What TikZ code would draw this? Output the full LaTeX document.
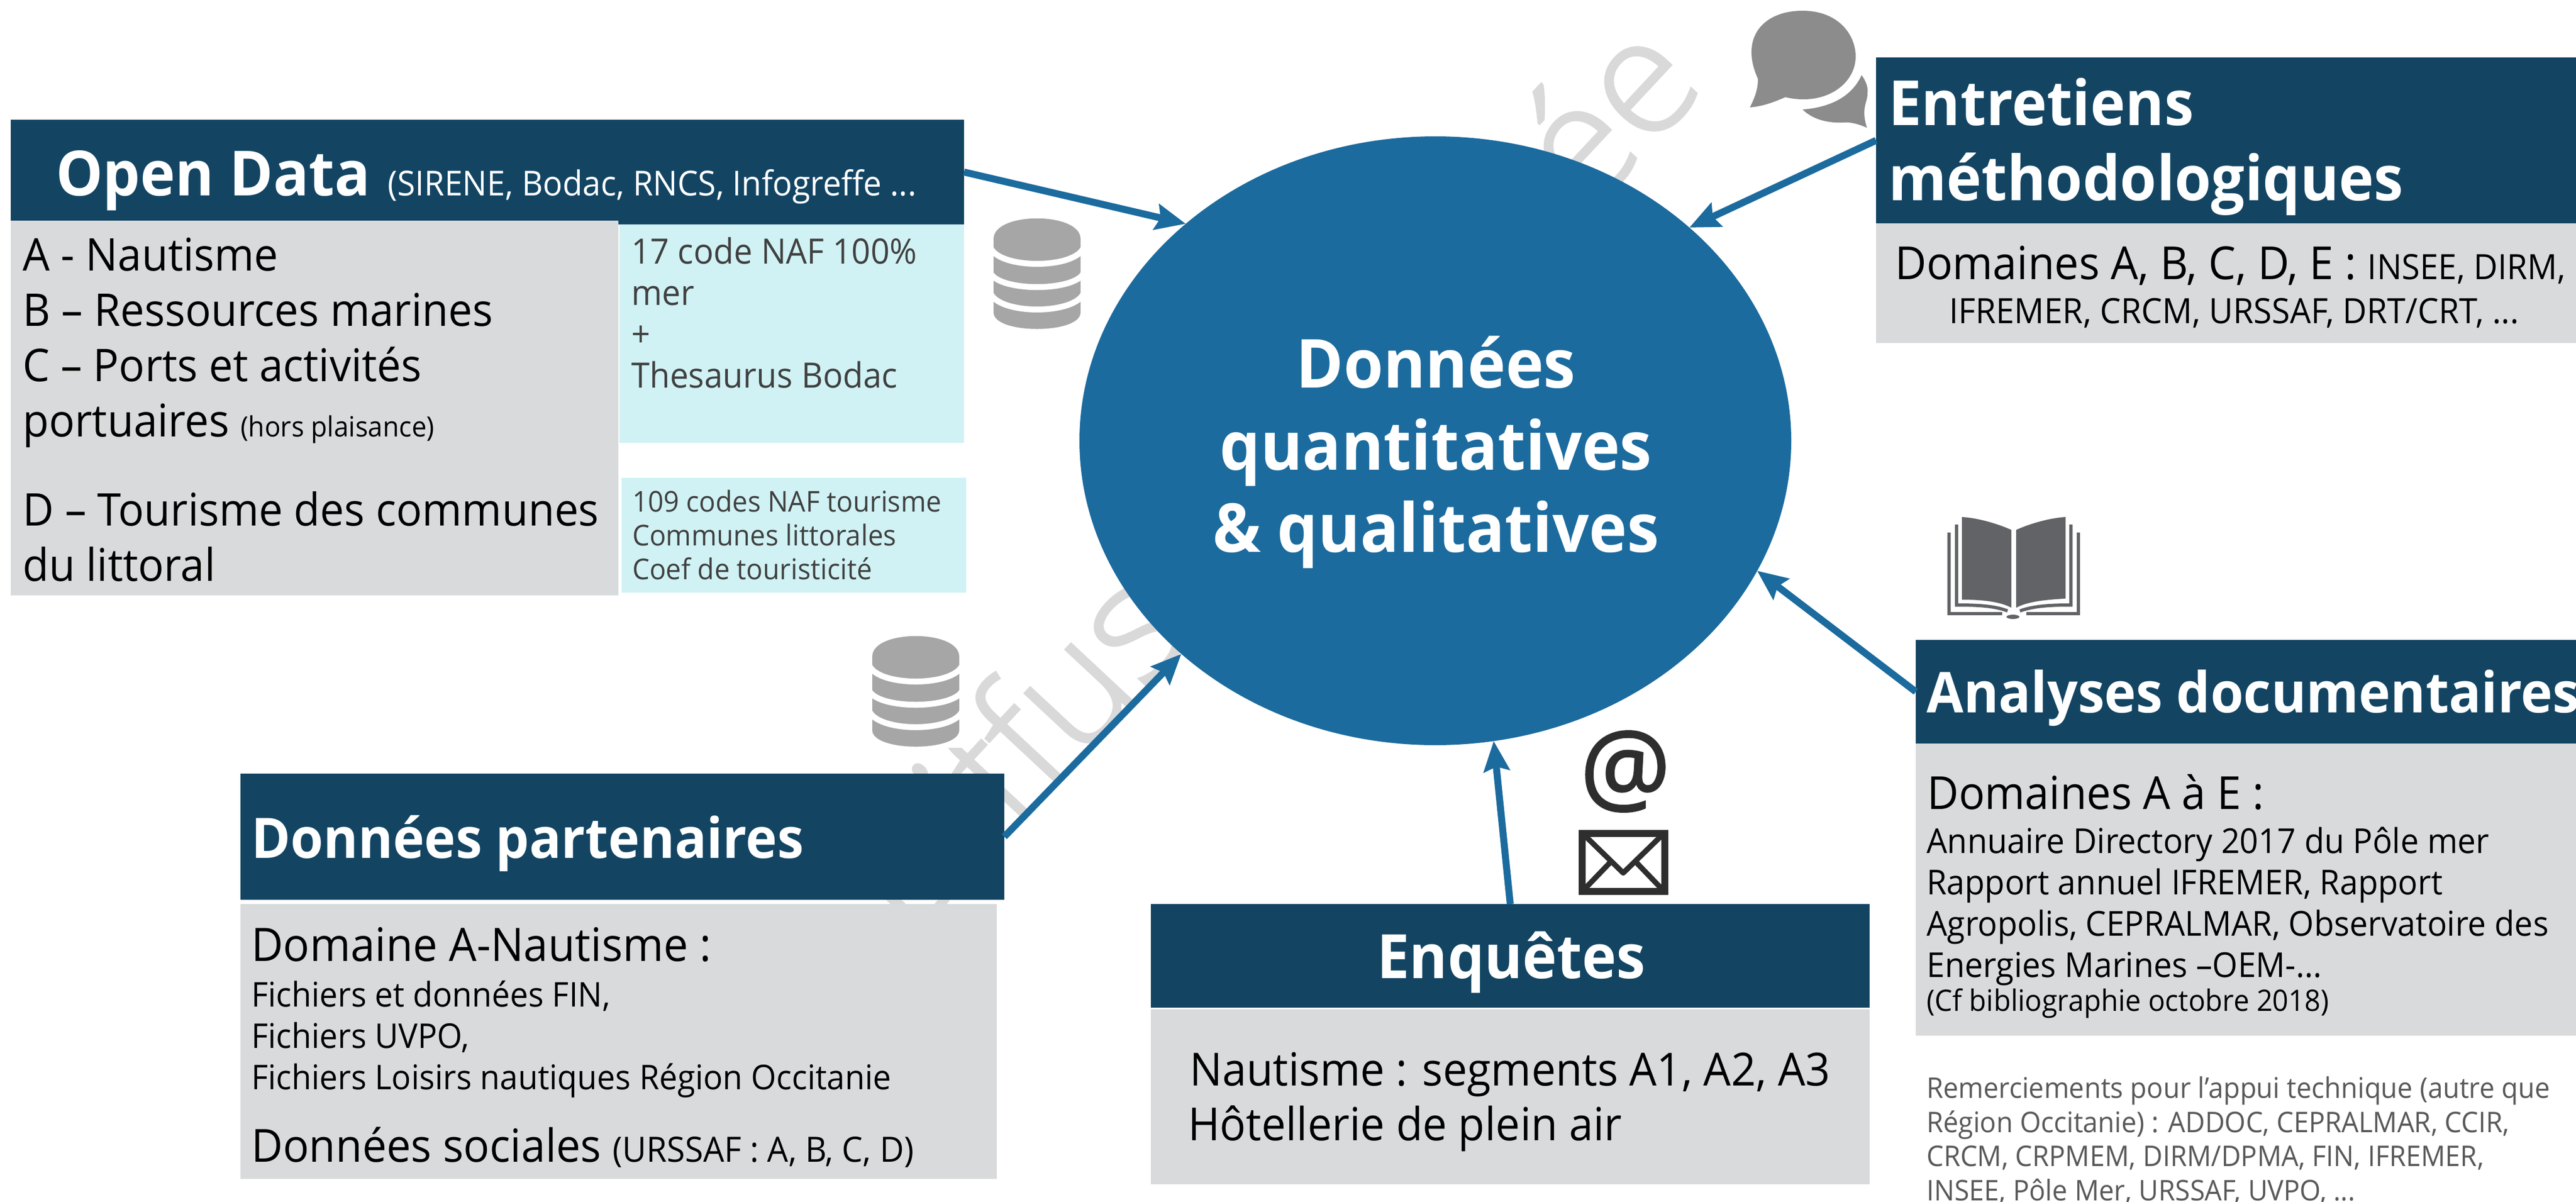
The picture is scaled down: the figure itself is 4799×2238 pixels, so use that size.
\documentclass[tikz,border=0pt]{standalone}
\usepackage{fontspec}
\setmainfont[FakeStretch=0.95]{Open Sans}
\newfontfamily\wmfont[UprightFont={* Light},FakeBold=1.5]{Open Sans}
\newfontfamily\atfont[FakeBold=1.5]{Open Sans}
\usetikzlibrary{arrows.meta,shapes.geometric}
\definecolor{hdrblue}{HTML}{134563}
\definecolor{ellblue}{HTML}{1C6B9E}
\definecolor{boxgray}{HTML}{D9DADC}
\definecolor{boxcyan}{HTML}{D0F2F5}
\definecolor{wmgray}{HTML}{D9D9D9}
\definecolor{dbgray}{HTML}{A6A6A6}
\definecolor{bubgray}{HTML}{8C8C8C}
\definecolor{bookgray}{HTML}{626366}
\definecolor{icondark}{HTML}{2E2E2E}
\definecolor{txtcyan}{HTML}{404040}
\definecolor{txtthanks}{HTML}{595959}
\newcommand\fs[2]{\fontsize{#1}{#2}\selectfont}
\newcommand\dbicon[2]{%
  \begin{scope}[shift={(#1,#2)}]
    \fill[white] (-111,-2) rectangle (107,208);
    \fill[dbgray] (-81,38) .. controls (-81,-13) and (81,-13) .. (81,38)
      -- (81,175) .. controls (81,216) and (-81,216) .. (-81,175) -- cycle;
    \draw[white,line width=11pt] (-86,56) .. controls (-66,94) and (66,94) .. (86,56);
    \draw[white,line width=11pt] (-86,103) .. controls (-66,136) and (66,136) .. (86,103);
    \draw[white,line width=11pt] (-86,141) .. controls (-66,179) and (66,179) .. (86,141);
  \end{scope}}
\tikzset{
  hdr/.style={fill=hdrblue,draw=none,inner sep=0pt,outer sep=0pt,anchor=north west},
  gbox/.style={fill=boxgray,draw=none,inner sep=0pt,outer sep=0pt,anchor=north west},
  cbox/.style={fill=boxcyan,draw=none,inner sep=0pt,outer sep=0pt,anchor=north west},
  ttl/.style={text=white,inner sep=0pt,anchor=base west},
  txt/.style={text=black,inner sep=0pt,anchor=base west,align=left},
  flow/.style={draw=ellblue,line width=13pt,-{Stealth[length=56pt,width=48pt,inset=8pt]}}
}
\begin{document}
\begin{tikzpicture}[x=1pt,y=-1pt]
\useasboundingbox (0,0) rectangle (4799,2238);
\fill[white] (0,0) rectangle (4799,2238);
% watermark
\node[text=wmgray,inner sep=0pt,rotate=47,anchor=center,font={\wmfont\fs{301}{305}}] (wm) at (2355,881) {Diffusion limitée};
% headers
\node[hdr,minimum width=1776pt,minimum height=195pt] (hopen) at (20,223) {};
\node[hdr,minimum width=1304pt,minimum height=309pt] (hentr) at (3495,107) {};
\node[hdr,minimum width=1230pt,minimum height=193pt] (hanal) at (3569,1192) {};
\node[hdr,minimum width=1339pt,minimum height=193pt] (henq) at (2144,1684) {};
\node[hdr,minimum width=1423pt,minimum height=235pt] (hpart) at (448,1441) {};
% grey & cyan boxes
\node[cbox,minimum width=642pt,minimum height=407pt] (c1) at (1154,418) {};
\node[cbox,minimum width=642pt,minimum height=214pt] (c2) at (1158,890) {};
\node[gbox,minimum width=1132pt,minimum height=698pt] (gopen) at (20,411) {};
\node[gbox,minimum width=1304pt,minimum height=223pt] (gentr) at (3495,416) {};
\node[gbox,minimum width=1230pt,minimum height=544pt] (ganal) at (3569,1385) {};
\node[gbox,minimum width=1339pt,minimum height=326pt] (genq) at (2144,1880) {};
\node[gbox,minimum width=1409pt,minimum height=512pt] (gpart) at (448,1684) {};
% central ellipse
\node[ellipse,fill=ellblue,draw=none,minimum width=1326pt,minimum height=1134pt,inner sep=0pt,outer sep=0pt] (core) at (2674,821) {};
\node[text=white,font={\bfseries\fs{126}{153}},align=center,inner sep=0pt,anchor=base] (coret) at (2675,1028) {Données\\quantitatives\\\& qualitatives};
% database icons (their white ground hides the watermark)
\dbicon{1932}{407}
\dbicon{1706}{1185}
% connectors
\draw[flow] (hopen.east) -- (core.139.7);
\draw[flow] (hpart.east) -- (core.220.5);
\draw[flow] (henq.north) -- (core.-79.5);
\draw[flow] (hanal.west) -- (core.-22.5);
\draw[flow] (hentr.west) -- (core.40.3);
% header texts
\node[ttl,font={\bfseries\fs{116}{120}}] (t1) at (104,364) {Open Data};
\node[ttl,font={\fs{64}{70}}] (t1b) at (722,364) {(SIRENE, Bodac, RNCS, Infogreffe ...};
\node[ttl,align=left,font={\bfseries\fs{116}{140}}] (t2) at (3518,373) {Entretiens\\méthodologiques};
\node[ttl,font={\bfseries\fs{105}{120}}] (t3) at (3589,1327) {Analyses documentaires};
\node[ttl,font={\bfseries\fs{114}{120}}] (t4) at (2565,1822) {Enquêtes};
\node[ttl,font={\bfseries\fs{104}{120}}] (t5) at (468,1598) {Données partenaires};
% open data body
\node[txt,font={\fs{84}{103}}] (a1) at (42,813) {A - Nautisme\\B – Ressources marines\\C – Ports et activités\\portuaires {\fs{52}{103}(hors plaisance)}};
\node[txt,font={\fs{84}{103}}] (a2) at (42,1082) {D – Tourisme des communes\\du littoral};
\node[txt,text=txtcyan,font={\fs{65}{77}}] (a3) at (1176,722) {17 code NAF 100\%\\mer\\+\\Thesaurus Bodac};
\node[txt,text=txtcyan,font={\fs{53.5}{63}}] (a4) at (1178,1079) {109 codes NAF tourisme\\Communes littorales\\Coef de touristicité};
% entretiens body
\node[txt,font={\fs{85}{90}}] (b1) at (3530,520) {Domaines A, B, C, D, E : {\fs{65}{90}INSEE, DIRM,}};
\node[txt,font={\fs{65}{82}}] (b2) at (3631,602) {IFREMER, CRCM, URSSAF, DRT/CRT, ...};
% analyses body
\node[txt,font={\fs{85}{90}}] (d1) at (3590,1507) {Domaines A à E :};
\node[txt,font={\fs{64}{77}}] (d2) at (3589,1820) {Annuaire Directory 2017 du Pôle mer\\Rapport annuel IFREMER, Rapport\\Agropolis, CEPRALMAR, Observatoire des\\Energies Marines –OEM-...};
\node[txt,font={\fs{55}{60}}] (d3) at (3589,1883) {(Cf bibliographie octobre 2018)};
\node[txt,text=txtthanks,font={\fs{53}{63.5}}] (d4) at (3589,2236) {Remerciements pour l’appui technique (autre que\\Région Occitanie) : ADDOC, CEPRALMAR, CCIR,\\CRCM, CRPMEM, DIRM/DPMA, FIN, IFREMER,\\INSEE, Pôle Mer, URSSAF, UVPO, ...};
% enquetes body
\node[txt,font={\fs{85}{90}}] (e1) at (2216,2022) {Nautisme : segments A1, A2, A3};
\node[txt,font={\fs{85}{90}}] (e2) at (2213,2124) {Hôtellerie de plein air};
% partenaires body
\node[txt,font={\fs{86}{90}}] (p1) at (468,1790) {Domaine A-Nautisme :};
\node[txt,font={\fs{63.5}{77}}] (p2) at (468,2029) {Fichiers et données FIN,\\Fichiers UVPO,\\Fichiers Loisirs nautiques Région Occitanie};
\node[txt,font={\fs{85}{90}}] (p3) at (468,2164) {Données sociales {\fs{65}{90}(URSSAF : A, B, C, D)}};
% speech bubbles
\fill[bubgray] (3468,140) .. controls (3476,150) and (3481,165) .. (3479,173) .. controls (3480,190) and (3466,200) .. (3478,238)
  .. controls (3465,232) and (3450,228) .. (3440,228) .. controls (3410,230) and (3380,225) .. (3358,204)
  .. controls (3410,200) and (3450,180) .. (3468,140) -- cycle;
\fill[bubgray] (3260,200) .. controls (3270,180) and (3275,165) .. (3275,147)
  .. controls (3240,70) and (3285,20) .. (3358,20) .. controls (3425,20) and (3457,65) .. (3457,105)
  .. controls (3457,150) and (3415,185) .. (3360,185) .. controls (3345,185) and (3335,183) .. (3326,181)
  .. controls (3305,190) and (3285,198) .. (3260,200) -- cycle;
% book
\fill[bookgray] (3655,963) .. controls (3685,965) and (3720,975) .. (3747,987) -- (3747,1132) .. controls (3725,1120) and (3690,1117) .. (3655,1117) -- cycle;
\fill[bookgray] (3848,963) .. controls (3818,965) and (3783,975) .. (3756,987) -- (3756,1132) .. controls (3778,1120) and (3813,1117) .. (3848,1115) -- cycle;
\draw[bookgray,line width=6pt] (3631,992) -- (3631,1143) -- (3730,1143);
\draw[bookgray,line width=6pt] (3645,977) -- (3645,1127) .. controls (3680,1127) and (3715,1128) .. (3740,1138);
\draw[bookgray,line width=6pt] (3872,992) -- (3872,1143) -- (3775,1143);
\draw[bookgray,line width=6pt] (3858,977) -- (3858,1127) .. controls (3825,1127) and (3790,1128) .. (3763,1138);
\fill[bookgray] (3750,1149) ellipse [x radius=12pt,y radius=4pt];
% at-sign and envelope
\node[text=icondark,inner sep=0pt,anchor=center,font={\atfont\fs{188}{190}}] (at) at (3028,1437) {@};
\draw[icondark,line width=13pt,line join=miter] (2947,1552) rectangle (3101,1660);
\draw[icondark,line width=10pt,line join=round] (2952,1556) -- (3024,1626) -- (3096,1556);
\draw[icondark,line width=10pt] (2952,1656) -- (3002,1604);
\draw[icondark,line width=10pt] (3096,1656) -- (3046,1604);
\end{tikzpicture}
\end{document}
